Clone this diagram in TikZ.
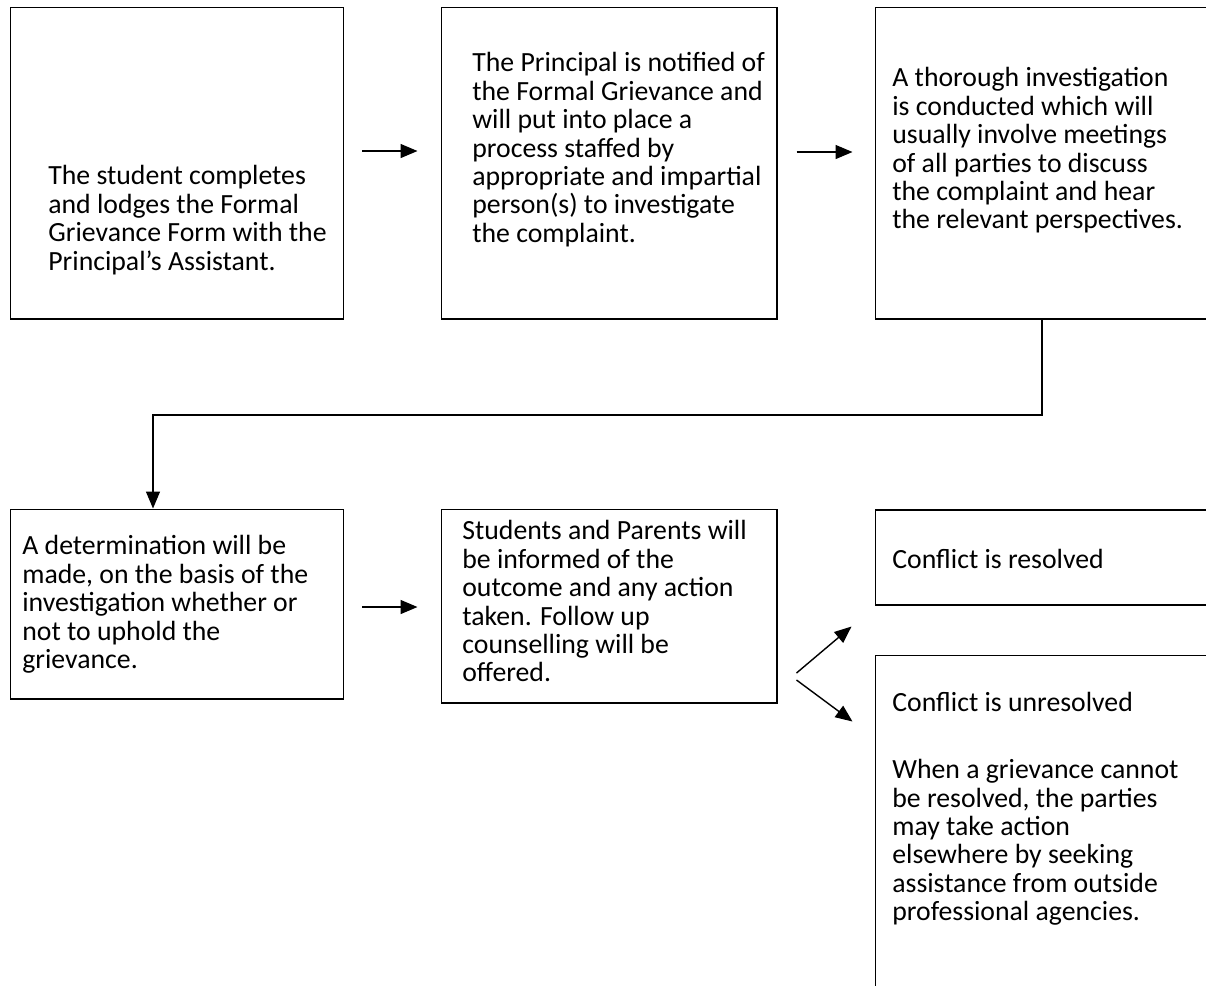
\documentclass[tikz,border=0pt]{standalone}
\usepackage{fontspec}
\setmainfont{Carlito}
\usetikzlibrary{arrows.meta,positioning}

\begin{document}
\begin{tikzpicture}[x=0.02cm,y=-0.02cm,
    box/.style={draw,line width=0.6pt,inner sep=0pt},
    txt/.style={anchor=north west,align=left,inner sep=0pt,
        font=\fontsize{15.8pt}{16.2pt}\selectfont},
    flow/.style={-{Triangle[length=3.4mm,width=2.8mm]},line width=0.8pt}]
    \useasboundingbox (0,0) rectangle (1206,985);
    \clip (0,0) rectangle (1206,985);

    % top row
    \node[box,minimum width=6.68cm,minimum height=6.24cm] (g_1) at (177,163) {};
    \node[box,minimum width=6.72cm,minimum height=6.24cm] (g_2) at (609,163) {};
    \node[box,minimum width=7.1cm,minimum height=6.24cm]  (g_3) at (1052.5,163) {};

    % bottom row
    \node[box,minimum width=6.68cm,minimum height=3.8cm]  (g_4) at (177,604) {};
    \node[box,minimum width=6.72cm,minimum height=3.88cm] (g_5) at (609,606) {};
    \node[box,minimum width=7.1cm,minimum height=1.9cm]   (g_6) at (1052.5,557.5) {};
    \node[box,minimum width=7.1cm,minimum height=7.1cm]   (g_7) at (1052.5,832.5) {};

    \node[txt] (t_1) at (48,165)  {The student completes\\and lodges the Formal\\Grievance Form with the\\Principal’s Assistant.};
    \node[txt] (t_2) at (472,52)  {The Principal is notified of\\the Formal Grievance and\\will put into place a\\process staffed by\\appropriate and impartial\\person(s) to investigate\\the complaint.};
    \node[txt] (t_3) at (892,67)  {A thorough investigation\\is conducted which will\\usually involve meetings\\of all parties to discuss\\the complaint and hear\\the relevant perspectives.};
    \node[txt] (t_4) at (22,535)  {A determination will be\\made, on the basis of the\\investigation whether or\\not to uphold the\\grievance.};
    \node[txt] (t_5) at (462,520) {Students and Parents will\\be informed of the\\outcome and any action\\taken. Follow up\\counselling will be\\offered.};
    \node[txt] (t_6) at (892,549) {Conflict is resolved};
    \node[txt] (t_7) at (892,692) {Conflict is unresolved\\[0.77cm]When a grievance cannot\\be resolved, the parties\\may take action\\elsewhere by seeking\\assistance from outside\\professional agencies.};

    % connectors
    \draw[flow] ([shift={(18,-12)}]g_1.east) -- ([shift={(-23,-12)}]g_2.west);
    \draw[flow] ([shift={(19,-11)}]g_2.east) -- ([shift={(-22,-11)}]g_3.west);
    \coordinate (j_r) at (1042,415);
    \coordinate (j_l) at (153,415);
    \draw[flow] (g_3.south -| j_r) -- (j_r) -- (j_l) -- (g_4.north -| j_l);
    \draw[flow] ([shift={(18,3)}]g_4.east) -- ([shift={(-23,1)}]g_5.west);
    \draw[flow] ([shift={(19,67)}]g_5.east) -- ([shift={(-23,21)}]g_6.south west);
    \draw[flow] ([shift={(19,74)}]g_5.east) -- ([shift={(-22,67)}]g_7.north west);
\end{tikzpicture}
\end{document}
